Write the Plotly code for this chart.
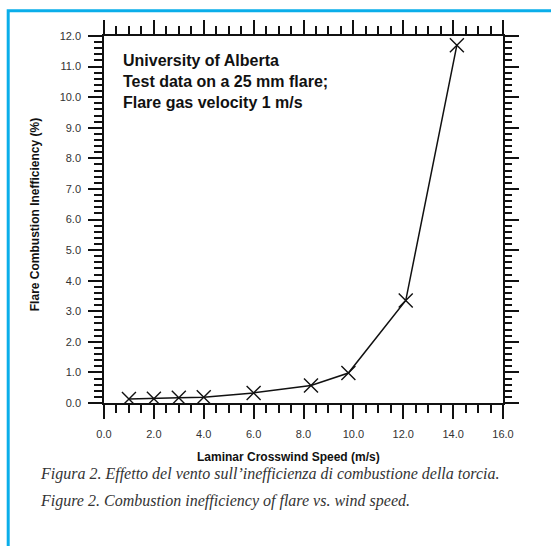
import plotly.graph_objects as go

# ---- data ----
wind_speed = [1.0, 2.0, 3.0, 4.0, 6.0, 8.3, 9.8, 12.1, 14.15]
inefficiency = [0.13, 0.14, 0.17, 0.19, 0.33, 0.57, 0.98, 3.35, 11.7]
x_tick_vals = [0, 2, 4, 6, 8, 10, 12, 14, 16]
x_tick_text = ["0.0", "2.0", "4.0", "6.0", "8.0", "10.0", "12.0", "14.0", "16.0"]
y_tick_vals = list(range(0, 13))
y_tick_text = [f"{v:.1f}" for v in y_tick_vals]

W, H = 551, 546
L, R, T, B = 104.3, 503.3, 35.7, 403.3

def px(x):
    return (x - L) / (R - L)

def py(y):
    return (B - y) / (B - T)

AX = "#111111"
TXT = "#333333"
BLUE = "#0aaeea"

fig = go.Figure()
fig.add_trace(go.Scatter(
    x=wind_speed, y=inefficiency, mode="lines+markers",
    line=dict(color="#111111", width=1.5),
    marker=dict(symbol="x-thin", size=14, line=dict(color="#111111", width=1.4)),
    hoverinfo="x+y", showlegend=False,
))
fig.add_trace(go.Scatter(
    x=wind_speed, y=inefficiency, xaxis="x2", yaxis="y2", mode="lines",
    line=dict(width=0), opacity=0, hoverinfo="skip", showlegend=False,
))

common = dict(showgrid=False, zeroline=False, showline=True, linecolor=AX, linewidth=1.5,
              ticks="outside", tickcolor=AX, tickwidth=1.5, ticklen=14)

fig.update_layout(
    width=W, height=H,
    margin=dict(l=L, r=W - R, t=T, b=H - B, pad=0),
    paper_bgcolor="white", plot_bgcolor="white",
    font=dict(family="Liberation Sans, Arial, sans-serif", size=11, color=TXT),
    xaxis=dict(**common, range=[0, 16], tickvals=x_tick_vals, ticktext=x_tick_text,
               ticklabelstandoff=6,
               minor=dict(dtick=0.5, ticklen=8, tickcolor=AX, tickwidth=1.5, ticks="outside")),
    yaxis=dict(**common, range=[0, 12], tickvals=y_tick_vals, ticktext=y_tick_text,
               ticklabelstandoff=5,
               minor=dict(dtick=0.2, ticklen=8, tickcolor=AX, tickwidth=1.5, ticks="outside")),
    xaxis2=dict(**common, range=[0, 16], overlaying="x", side="top", matches="x",
                dtick=2, showticklabels=False,
                minor=dict(dtick=0.5, ticklen=8, tickcolor=AX, tickwidth=1.5, ticks="outside")),
    yaxis2=dict(**common, range=[0, 12], overlaying="y", side="right", matches="y",
                dtick=1, showticklabels=False,
                minor=dict(dtick=0.2, ticklen=7, tickcolor=AX, tickwidth=1.5, ticks="outside")),
)

# axis titles
fig.add_annotation(text="<b>Laminar Crosswind Speed (m/s)</b>", xref="paper", yref="paper",
                   x=px(289), y=py(457), showarrow=False,
                   font=dict(size=12, color="#111111"), xanchor="center", yanchor="middle")
fig.add_annotation(text="<b>Flare Combustion Inefficiency (%)</b>", xref="paper", yref="paper",
                   x=px(35), y=py(214.5), showarrow=False, textangle=-90,
                   font=dict(size=12, color="#111111"), xanchor="center", yanchor="middle")

# inner label
fig.add_annotation(text="<b>University of Alberta<br>Test data on a 25 mm flare;<br>Flare gas velocity 1 m/s</b>",
                   xref="paper", yref="paper", x=px(121), y=py(81), showarrow=False,
                   align="left", xanchor="left", yanchor="middle",
                   font=dict(size=16, color="#111111"))

# caption
cap_font = dict(family="Liberation Serif, Times New Roman, serif", size=16, color=TXT)
fig.add_annotation(text="<i>Figura 2. Effetto del vento sull’inefficienza di combustione della torcia.</i>",
                   xref="paper", yref="paper", x=px(38), y=py(474), showarrow=False,
                   xanchor="left", yanchor="middle", font=cap_font)
fig.add_annotation(text="<i>Figure 2. Combustion inefficiency of flare vs. wind speed.</i>",
                   xref="paper", yref="paper", x=px(38), y=py(501), showarrow=False,
                   xanchor="left", yanchor="middle", font=cap_font)

# blue frame
fig.add_shape(type="path", xref="paper", yref="paper",
              path=f"M {px(8.5)},{py(560)} L {px(8.5)},{py(10.5)} L {px(560)},{py(10.5)}",
              line=dict(color=BLUE, width=3), layer="above")

fig.write_html("out.html", config={"displayModeBar": False},
               post_script="document.body.style.margin='0';document.body.style.overflow='hidden';")
